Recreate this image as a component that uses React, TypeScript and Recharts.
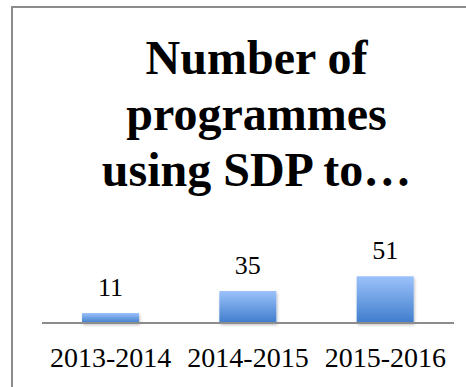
import React from "react";
import { BarChart, Bar, XAxis, YAxis, LabelList } from "recharts";

const periods = ["2013-2014", "2014-2015", "2015-2016"];
const programmeCounts = [11, 35, 51];
const titleLines = ["Number of", "programmes", "using SDP to…"];

const data = periods.map((period, i) => ({ period, count: programmeCounts[i] }));

const serif = "'Liberation Serif', 'Times New Roman', serif";

export default function App() {
  return (
    <div style={{ position: "absolute", left: 0, top: 0, width: 466, height: 387, overflow: "hidden", background: "#fff" }}>
      {/* chart frame, cut off on the right and bottom like the reference */}
      <div style={{ position: "absolute", left: 11, top: 6, width: 600, height: 500, border: "2px solid #8c8c8c" }} />
      <div style={{ position: "absolute", left: 0, top: 30, width: 513, textAlign: "center", fontFamily: serif, fontWeight: 700, fontSize: 48, lineHeight: "56px", color: "#000" }}>
        {titleLines.map((line) => (
          <div key={line}>{line}</div>
        ))}
      </div>
      <div style={{ position: "absolute", left: 0, top: 0 }}>
        <BarChart width={466} height={387} data={data} margin={{ top: 268, right: 12, left: 42, bottom: 0 }}>
          <defs>
            <linearGradient id="barFill" x1="0" y1="0" x2="0" y2="1">
              <stop offset="0%" stopColor="#9cc2fb" />
              <stop offset="100%" stopColor="#3f7dcc" />
            </linearGradient>
            <filter id="barShadow" x="-20%" y="-20%" width="140%" height="160%">
              <feDropShadow dx="1" dy="2" stdDeviation="1.5" floodColor="#000" floodOpacity="0.25" />
            </filter>
          </defs>
          <XAxis
            dataKey="period"
            height={64}
            tickLine={false}
            tickSize={0}
            tickMargin={24}
            axisLine={{ stroke: "#8c8c8c", strokeWidth: 2 }}
            tick={{ fontFamily: serif, fontSize: 28, fill: "#000" }}
            interval={0}
          />
          <YAxis hide domain={[0, 60]} />
          <Bar dataKey="count" fill="url(#barFill)" barSize={57} filter="url(#barShadow)" isAnimationActive={false}>
            <LabelList dataKey="count" position="top" offset={17} style={{ fontFamily: serif, fontSize: 26, fill: "#000" }} />
          </Bar>
        </BarChart>
      </div>
    </div>
  );
}
